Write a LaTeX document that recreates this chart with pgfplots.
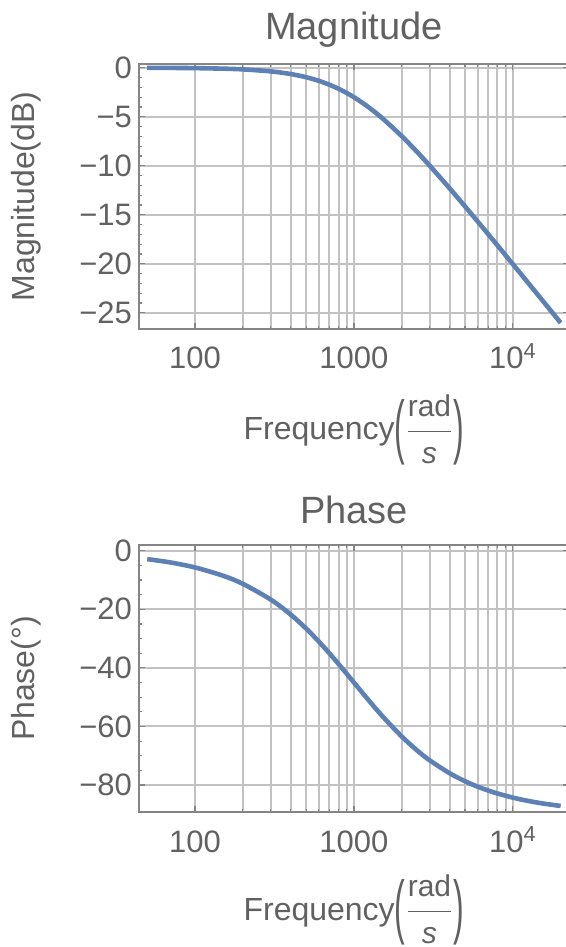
\documentclass[border=0pt]{standalone}
\usepackage{fontspec}
\setmainfont{Liberation Sans}
\usepackage{amsmath}
\usepackage{graphicx}
\usepackage{pgfplots}
\pgfplotsset{compat=1.18}

\definecolor{mblue}{RGB}{94,129,181}
\definecolor{txt}{gray}{0.38}
\definecolor{frm}{gray}{0.52}
\definecolor{grd}{gray}{0.76}

\pgfplotstableread{
w      mag      ph
50     -0.011   -2.862
70     -0.021   -4.004
100    -0.043   -5.711
150    -0.097   -8.531
200    -0.170   -11.310
300    -0.374   -16.699
400    -0.645   -21.801
500    -0.969   -26.565
600    -1.335   -30.964
700    -1.732   -34.992
800    -2.148   -38.660
900    -2.577   -41.987
1000   -3.010   -45.000
1200   -3.874   -50.194
1500   -5.119   -56.310
2000   -6.990   -63.435
2500   -8.603   -68.199
3000   -10.000  -71.565
4000   -12.304  -75.964
5000   -14.150  -78.690
6000   -15.682  -80.538
7000   -16.990  -81.870
8000   -18.129  -82.875
10000  -20.043  -84.289
12000  -21.614  -85.236
15000  -23.541  -86.186
20000  -26.031  -87.138
}\bode

% tall thin parentheses round a small fraction, as in the reference
\newcommand{\tallparen}[1]{\raisebox{-5.1pt}{\scalebox{1}[2.2]{#1}}}
\newcommand{\freqlabel}{Frequency\tallparen{(}$\dfrac{\text{\fontsize{15}{15}\selectfont rad}}{\text{\fontsize{15}{15}\selectfont\itshape s}}$\tallparen{)}}

\begin{document}
\begin{tikzpicture}
\path[use as bounding box] (0,0) rectangle (283pt,473.5pt);

\begin{axis}[
  at={(69.5pt,309pt)}, anchor=south west,
  scale only axis, width=214.9pt, height=132.5pt,
  xmode=log, xmin=44.4, xmax=22500,
  ymin=-26.66, ymax=0.38,
  xtick={100,1000,10000},
  xticklabels={100,1000,10\textsuperscript{4}},
  minor xtick={200,300,400,500,600,700,800,900,2000,3000,4000,5000,6000,7000,8000,9000},
  ytick={-25,-20,-15,-10,-5,0},
  yticklabels={−25,−20,−15,−10,−5,0},
  minor y tick num=4,
  xmajorgrids, xminorgrids, ymajorgrids,
  major grid style={grd, line width=1pt},
  minor grid style={grd, line width=1pt},
  axis line style={frm, line width=0.75pt},
  tick style={frm, line width=0.6pt},
  tick align=inside, xtick pos=both, ytick pos=both,
  major tick length=3pt, minor tick length=1.6pt,
  ticklabel style={font=\fontsize{15.5}{18}\selectfont, text=txt},
  xticklabel style={anchor=base, yshift=-20pt},
  label style={font=\fontsize{16}{18}\selectfont, text=txt},
  ylabel style={at={(axis description cs:-0.263,0.5)}, anchor=center},
  xlabel style={at={(axis description cs:0.5,0)}, anchor=base, yshift=-55.5pt, inner sep=0pt},
  title style={font=\fontsize{19}{22}\selectfont, text=txt, at={(axis description cs:0.5,1)}, anchor=base, yshift=6pt},
  xlabel={\freqlabel},
  ylabel={Magnitude(dB)},
  title={Magnitude}]
\addplot[mblue, line width=2.3pt, smooth] table[x=w, y=mag] {\bode};
\end{axis}

\begin{axis}[
  at={(69.5pt,67.5pt)}, anchor=south west,
  scale only axis, width=214.9pt, height=133.5pt,
  xmode=log, xmin=44.4, xmax=22500,
  ymin=-89.2, ymax=1.95,
  xtick={100,1000,10000},
  xticklabels={100,1000,10\textsuperscript{4}},
  minor xtick={200,300,400,500,600,700,800,900,2000,3000,4000,5000,6000,7000,8000,9000},
  ytick={-80,-60,-40,-20,0},
  yticklabels={−80,−60,−40,−20,0},
  minor y tick num=3,
  xmajorgrids, xminorgrids, ymajorgrids,
  major grid style={grd, line width=1pt},
  minor grid style={grd, line width=1pt},
  axis line style={frm, line width=0.75pt},
  tick style={frm, line width=0.6pt},
  tick align=inside, xtick pos=both, ytick pos=both,
  major tick length=3pt, minor tick length=1.6pt,
  ticklabel style={font=\fontsize{15.5}{18}\selectfont, text=txt},
  xticklabel style={anchor=base, yshift=-20pt},
  label style={font=\fontsize{16}{18}\selectfont, text=txt},
  ylabel style={at={(axis description cs:-0.263,0.5)}, anchor=center},
  xlabel style={at={(axis description cs:0.5,0)}, anchor=base, yshift=-54pt, inner sep=0pt},
  title style={font=\fontsize{19}{22}\selectfont, text=txt, at={(axis description cs:0.5,1)}, anchor=base, yshift=5pt},
  xlabel={\freqlabel},
  ylabel={Phase(°)},
  title={Phase}]
\addplot[mblue, line width=2.3pt, smooth] table[x=w, y=ph] {\bode};
\end{axis}
\end{tikzpicture}
\end{document}
